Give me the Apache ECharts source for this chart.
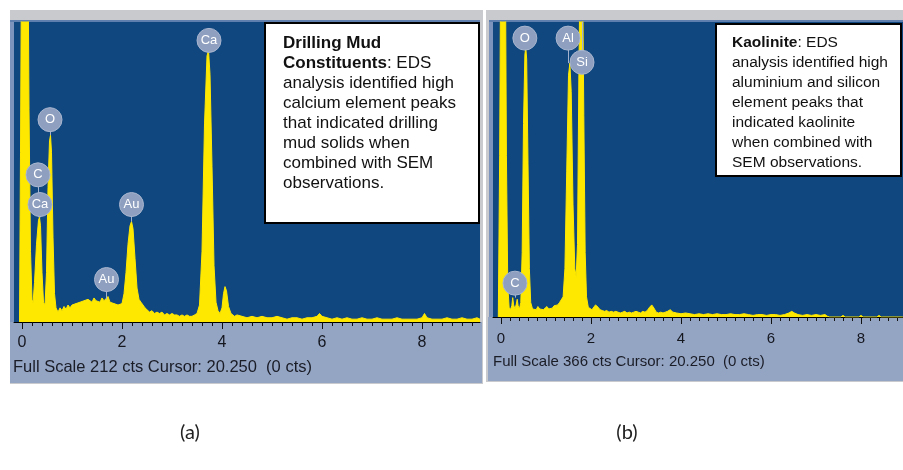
<!DOCTYPE html>
<html><head><meta charset="utf-8">
<script src="https://cdn.jsdelivr.net/npm/echarts/dist/echarts.min.js"></script>
<style>html,body{margin:0;padding:0;background:#fff;}#c{width:903px;height:470px;}</style>
</head><body><div id="c"></div><script>
// ---- DATA ----
const majorTicks = [0, 2, 4, 6, 8];
const fullScaleA = 212;
const fullScaleB = 366;
const footerA = 'Full Scale 212 cts Cursor: 20.250  (0 cts)';
const footerB = 'Full Scale 366 cts Cursor: 20.250  (0 cts)';
// [keV, counts]
const spectrumA = [
[-0.05,0],[-0.03,120],[-0.01,260],[0.12,260],[0.14,150],[0.17,50],[0.2,16],[0.22,13],[0.25,28],[0.29,55],[0.33,72],[0.35,74],[0.37,68],[0.4,35],[0.43,14],[0.46,12],[0.49,35],[0.52,95],[0.55,128],[0.57,132],[0.59,120],[0.62,60],[0.65,20],[0.68,10],
[0.72,7],[0.76,10],[0.8,8],[0.84,11],[0.88,9],[0.92,12],[0.96,10],[1.0,12],[1.04,11],[1.08,13],[1.12,12],[1.16,14],[1.2,13],[1.24,15],[1.28,14],[1.32,16],[1.36,15],[1.4,14],[1.44,17],[1.48,15],[1.52,16],[1.56,14],[1.6,17],[1.64,15],[1.68,16],[1.72,18],[1.76,14],[1.8,15],[1.84,13],[1.88,14],[1.92,12],[1.96,13],[2.0,13],
[2.04,20],[2.08,35],[2.12,55],[2.16,68],[2.19,71],[2.22,66],[2.26,45],[2.3,24],[2.34,16],[2.38,14],[2.42,15],[2.46,10],[2.5,9],[2.55,7],[2.6,8],[2.65,6],[2.7,7],[2.75,6],[2.8,7],[2.85,5],[2.9,6],[2.95,5],[3.0,6],[3.05,5],[3.1,5],[3.15,4],[3.2,5],[3.25,4],[3.3,5],[3.35,4],[3.4,4],[3.45,5],[3.5,6],
[3.55,12],[3.6,50],[3.65,140],[3.7,188],[3.73,192],[3.76,175],[3.8,110],[3.84,40],[3.88,14],[3.92,8],[3.96,6],[4.0,10],[4.03,20],[4.06,25],[4.09,22],[4.13,11],[4.18,6],[4.25,4],[4.3,5],
[4.4,4],[4.5,3],[4.6,4],[4.7,3],[4.8,4],[4.9,3],[5.0,3],[5.1,4],[5.2,3],[5.3,2],[5.4,3],[5.5,3],[5.6,2],[5.7,3],[5.8,3],[5.9,4],[5.95,6],[6.0,4],[6.1,3],[6.2,2],[6.3,3],[6.4,2],[6.5,3],[6.6,2],[6.7,2],[6.8,3],[6.9,2],[7.0,2],[7.1,3],[7.2,2],[7.3,2],[7.4,2],[7.5,3],[7.6,2],[7.7,2],[7.8,2],[7.9,2],[8.0,3],[8.05,6],[8.1,3],[8.2,2],[8.3,2],[8.4,2],[8.5,3],[8.6,2],[8.7,2],[8.8,3],[8.9,2],[9.0,2],[9.1,3],[9.16,2]
];
const spectrumB = [
[-0.06,0],[-0.03,200],[-0.01,420],[0.1,420],[0.12,200],[0.15,40],[0.18,12],[0.21,9],[0.24,14],[0.26,24],[0.28,15],[0.31,10],[0.34,16],[0.36,22],[0.38,14],[0.41,10],[0.44,18],[0.47,80],[0.5,240],[0.53,325],[0.55,335],[0.57,320],[0.6,190],[0.63,60],[0.66,18],
[0.7,10],[0.74,12],[0.78,9],[0.82,13],[0.86,10],[0.9,12],[0.94,9],[0.98,11],[1.02,13],[1.06,10],[1.1,12],[1.14,11],[1.18,14],[1.22,12],[1.26,15],[1.3,18],[1.34,16],[1.38,25],
[1.42,60],[1.46,180],[1.5,300],[1.53,315],[1.56,280],[1.6,140],[1.64,60],[1.67,50],[1.7,90],[1.73,300],[1.76,450],[1.81,450],[1.84,250],[1.87,80],[1.9,25],[1.94,12],
[1.98,10],[2.02,9],[2.06,11],[2.1,15],[2.13,17],[2.16,12],[2.2,9],[2.25,8],[2.3,7],[2.35,8],[2.4,6],[2.45,7],[2.5,6],[2.55,7],[2.6,6],[2.65,5],[2.7,6],[2.75,7],[2.8,5],[2.85,6],[2.9,5],[2.95,6],[3.0,7],[3.05,6],[3.1,5],[3.15,7],[3.2,6],[3.25,8],[3.3,12],[3.35,15],[3.4,11],[3.45,6],
[3.5,5],[3.55,6],[3.6,5],[3.65,6],[3.7,7],[3.76,9],[3.82,6],[3.9,5],[4.0,4],[4.1,5],[4.2,4],[4.3,3],[4.4,4],[4.5,3],[4.6,4],[4.7,3],[4.8,4],[4.9,3],[5.0,3],[5.1,4],[5.2,3],[5.3,3],[5.4,4],[5.5,3],[5.6,2],[5.7,3],[5.8,3],[5.9,2],[6.0,3],[6.1,3],[6.2,2],[6.3,3],[6.4,5],[6.46,7],[6.52,5],[6.6,3],[6.7,2],[6.8,3],[6.9,2],[7.0,3],[7.1,2],[7.2,3],[7.25,1],
[7.3,0],[7.55,0],[7.6,2],[7.65,0],[7.95,0],[8.0,2],[8.05,0],[8.35,0],[8.4,2],[8.45,0],[8.93,0]
];
// peak labels: element, keV, label height (cts), peak top (cts)
const peaksA = [
  ['Ca', 3.74, 199, 192],
  ['O', 0.56, 143, 132],
  ['C', 0.32, 104, 74],
  ['Ca', 0.36, 83, 74],
  ['Au', 2.19, 83, 71],
  ['Au', 1.69, 30, 16]
];
const peaksB = [
  ['O', 0.53, 346, 335],
  ['Al', 1.49, 346, 315],
  ['Si', 1.80, 316, 366],
  ['C', 0.31, 42, 24]
];

// ---- STYLE ----
const FONT = '"Liberation Sans", Arial, sans-serif';
const YELLOW = '#FFE800';
const BLUE = '#10477F';
const LOWER = '#94A5C4';
const FRAME = '#C8CACE';
const minorTicksA = [], minorTicksB = [];
for (let i = 0; i <= 45; i++) minorTicksA.push(Math.round(i * 2) / 10);
for (let i = 0; i <= 44; i++) minorTicksB.push(Math.round(i * 2) / 10);

function markPoints(peaks) {
  return {
    symbol: 'circle', symbolSize: 24, silent: true,
    itemStyle: { color: '#8E9FBF', borderColor: '#A9B6CF', borderWidth: 1 },
    label: { show: true, position: 'inside', formatter: '{b}', color: '#fff', fontSize: 13, fontFamily: FONT },
    data: peaks.map(p => ({ name: p[0], coord: [p[1], p[2]] }))
  };
}
function markLines(peaks) {
  return {
    symbol: ['none', 'none'], silent: true, animation: false,
    lineStyle: { color: '#A3B2CE', width: 1, type: 'solid' },
    label: { show: false },
    data: peaks.map(p => [{ coord: [p[1], p[2]] }, { coord: [p[1], p[3]] }])
  };
}
function xAxes(grid, min, max, minor, fs, margin) {
  return [
    { gridIndex: grid, type: 'value', min: min, max: max,
      axisLine: { show: true, onZero: false, lineStyle: { color: '#000', width: 1 } },
      axisTick: { show: true, customValues: minor, length: 4, lineStyle: { color: '#111' } },
      axisLabel: { show: false }, splitLine: { show: false } },
    { gridIndex: grid, type: 'value', min: min, max: max, position: 'bottom',
      axisLine: { show: false },
      axisTick: { show: true, customValues: majorTicks, length: 7, lineStyle: { color: '#111' } },
      axisLabel: { show: true, customValues: majorTicks, margin: margin, fontSize: fs, color: '#15171f', fontFamily: FONT },
      splitLine: { show: false } }
  ];
}

const chart = echarts.init(document.getElementById('c'), null, { renderer: 'canvas' });
chart.setOption({
  animation: false,
  backgroundColor: '#fff',
  grid: [
    { left: 14, top: 22, width: 466, height: 300, show: false },
    { left: 493, top: 22, width: 410, height: 295, show: false }
  ],
  xAxis: [].concat(xAxes(0, -0.16, 9.16, minorTicksA, 16, 13), xAxes(1, -0.178, 8.933, minorTicksB, 15, 14)),
  yAxis: [
    { gridIndex: 0, type: 'value', min: 0, max: fullScaleA, show: false },
    { gridIndex: 1, type: 'value', min: 0, max: fullScaleB, show: false }
  ],
  series: [
    { type: 'line', xAxisIndex: 0, yAxisIndex: 0, data: spectrumA, symbol: 'none', clip: true,
      lineStyle: { color: YELLOW, width: 1 }, areaStyle: { color: YELLOW, opacity: 1 },
      markPoint: markPoints(peaksA), markLine: markLines(peaksA), z: 3 },
    { type: 'line', xAxisIndex: 2, yAxisIndex: 1, data: spectrumB, symbol: 'none', clip: true,
      lineStyle: { color: YELLOW, width: 1 }, areaStyle: { color: YELLOW, opacity: 1 },
      markPoint: markPoints(peaksB), markLine: markLines(peaksB), z: 3 }
  ],
  graphic: [
    // left panel frame
    { type: 'rect', z: -10, shape: { x: 10, y: 10, width: 473, height: 374 }, style: { fill: FRAME } },
    { type: 'rect', z: -9, shape: { x: 10, y: 20, width: 470, height: 302 }, style: { fill: BLUE } },
    { type: 'rect', z: -8, shape: { x: 10, y: 20, width: 4, height: 302 }, style: { fill: '#7D95BD' } },
    { type: 'rect', z: -8, shape: { x: 10, y: 20, width: 470, height: 2 }, style: { fill: '#5F80AF' } },
    { type: 'rect', z: -8, shape: { x: 10, y: 322, width: 472, height: 61 }, style: { fill: LOWER } },
    // right panel frame
    { type: 'rect', z: -10, shape: { x: 486, y: 10, width: 417, height: 372 }, style: { fill: FRAME } },
    { type: 'rect', z: -9, shape: { x: 489, y: 20, width: 414, height: 297 }, style: { fill: BLUE } },
    { type: 'rect', z: -8, shape: { x: 489, y: 20, width: 4, height: 297 }, style: { fill: '#7D95BD' } },
    { type: 'rect', z: -8, shape: { x: 489, y: 20, width: 414, height: 2 }, style: { fill: '#5F80AF' } },
    { type: 'rect', z: -8, shape: { x: 488, y: 317, width: 415, height: 64 }, style: { fill: LOWER } },
    // footers
    { type: 'text', z: 10, x: 13, y: 367, style: { text: footerA, fill: '#1a1c26', font: '16.5px ' + FONT, textVerticalAlign: 'middle' } },
    { type: 'text', z: 10, x: 493, y: 362, style: { text: footerB, fill: '#1a1c26', font: '15px ' + FONT, textVerticalAlign: 'middle' } },
    // text boxes
    { type: 'rect', z: 20, shape: { x: 265, y: 23, width: 214, height: 200 }, style: { fill: '#fff', stroke: '#000', lineWidth: 2 } },
    { type: 'text', z: 21, x: 283, y: 33, style: {
        text: '{b|Drilling Mud}\n{b|Constituents}{n|: EDS}\n{n|analysis identified high}\n{n|calcium element peaks}\n{n|that indicated drilling}\n{n|mud solids when}\n{n|combined with SEM}\n{n|observations.}',
        rich: {
          b: { fontWeight: 'bold', fontSize: 17, lineHeight: 20, fontFamily: FONT, fill: '#111' },
          n: { fontSize: 17, lineHeight: 20, fontFamily: FONT, fill: '#111' }
        } } },
    { type: 'rect', z: 20, shape: { x: 716, y: 24, width: 185, height: 152 }, style: { fill: '#fff', stroke: '#000', lineWidth: 2 } },
    { type: 'text', z: 21, x: 732, y: 33, style: {
        text: '{b|Kaolinite}{n|: EDS}\n{n|analysis identified high}\n{n|aluminium and silicon}\n{n|element peaks that}\n{n|indicated kaolinite}\n{n|when combined with}\n{n|SEM observations.}',
        rich: {
          b: { fontWeight: 'bold', fontSize: 15.5, lineHeight: 20, fontFamily: FONT, fill: '#111' },
          n: { fontSize: 15.5, lineHeight: 20, fontFamily: FONT, fill: '#111' }
        } } },
    // panel captions
    { type: 'text', z: 10, x: 190, y: 433, style: { text: '(a)', fill: '#222', font: '20px Lato, "Open Sans", sans-serif', textAlign: 'center', textVerticalAlign: 'middle' } },
    { type: 'text', z: 10, x: 627, y: 433, style: { text: '(b)', fill: '#222', font: '20px Lato, "Open Sans", sans-serif', textAlign: 'center', textVerticalAlign: 'middle' } }
  ]
});
</script></body></html>
